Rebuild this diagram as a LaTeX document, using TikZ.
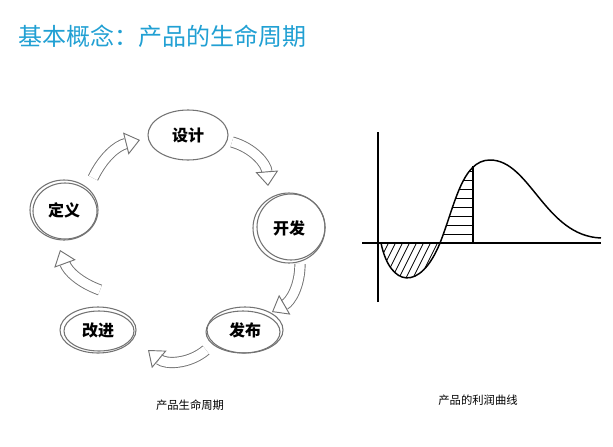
\documentclass[tikz,border=0pt]{standalone}
\usepackage{fontspec}
\setmainfont{Noto Sans CJK SC}
\usetikzlibrary{arrows.meta,positioning}

\begin{document}
\begin{tikzpicture}[
		x=0.75pt,y=-0.75pt,
		stage/.style={
			draw=gray!90!black,
			line width=0.8pt
		},
		label/.style={font=\bfseries\fontsize{12}{13}\selectfont},
		band/.style={
			draw=gray!90!black,
			line width=0.7pt,
			double=white,
			double distance=7pt,
			-{Triangle[open,width=17pt,length=11pt,line width=0.7pt]}
		},
		caption/.style={font=\fontsize{8.5}{10}\selectfont},
		axis/.style={line width=1.2pt}
		]
		\useasboundingbox (0,0) rectangle (613,446);
		
		% Title
		\node[anchor=west,text=cyan!70!teal,font=\fontsize{18}{20}\selectfont] (title) at (14,36) {基本概念：产品的生命周期};
		
		% Stages of the cycle
		\draw[stage] (188,135) ellipse (40 and 25);
		\node[label] (sheji) at (188,135) {设计};
		\draw[stage] (289,228) ellipse (36 and 35);
		\draw[stage] (291,227) ellipse (34 and 33);
		\node[label] (kaifa) at (289,228) {开发};
		\draw[stage] (245,330) ellipse (38 and 23);
		\draw[stage] (243,332) ellipse (37 and 21);
		\node[label] (fabu) at (245,330) {发布};
		\draw[stage] (98,330) ellipse (38 and 23);
		\draw[stage] (99,331) ellipse (35 and 20);
		\node[label] (gaijin) at (98,330) {改进};
		\draw[stage] (64,210) ellipse (34 and 30);
		\draw[stage] (65,211) ellipse (32 and 28);
		\node[label] (dingyi) at (64,210) {定义};
		
		% Arrows between stages
		\coordinate (a1) at (232,142);
		\coordinate (b1) at (268,186);
		\coordinate (a2) at (300,264);
		\coordinate (b2) at (272,312);
		\coordinate (a3) at (206,350);
		\coordinate (b3) at (148,350);
		\coordinate (a4) at (100,290);
		\coordinate (b4) at (60,250);
		\coordinate (a5) at (93,178);
		\coordinate (b5) at (140,140);
		\draw[band] (a1) to[bend left=35] (b1);
		\draw[band] (a2) to[bend left=30] (b2);
		\draw[band] (a3) to[bend left=40] (b3);
		\draw[band] (a4) to[bend left=25] (b4);
		\draw[band] (a5) to[bend left=25] (b5);
		
		\node[caption] (cyclecap) at (190,405) {产品生命周期};
		
		% Profit curve
		\coordinate (origin) at (378,243);
		\coordinate (ytop) at (378,132);
		\coordinate (ybot) at (378,302);
		\coordinate (xleft) at (362,243);
		\coordinate (xright) at (601,243);
		
		\begin{scope}
			\clip (381,243) .. controls (390,287) and (420,292) .. (440,243) -- cycle;
			\foreach \i in {360,367,...,450}
			\draw[line width=0.6pt] (\i,300) -- (\i+30,240);
		\end{scope}
		\begin{scope}
			\clip (440,243) .. controls (455,205) and (462,160) .. (490,160) -- (490,243) -- cycle;
			\clip (440,150) rectangle (473,243);
			\foreach \j in {171,180,...,240}
			\draw[line width=0.6pt] (440,\j) -- (473,\j);
		\end{scope}
		\coordinate (cut) at (473,166);
		\draw[line width=1pt] (473,243) -- (cut);
		
		\draw[line width=1.1pt] (381,243) .. controls (390,287) and (420,292) .. (440,243)
		.. controls (455,205) and (462,160) .. (490,160)
		.. controls (530,160) and (545,236) .. (601,238);
		
		\draw[axis] (ybot) -- (ytop);
		\draw[axis] (xleft) -- (xright);
		
		\node[caption] (curvecap) at (478,400) {产品的利润曲线};
	\end{tikzpicture}
\end{document}
